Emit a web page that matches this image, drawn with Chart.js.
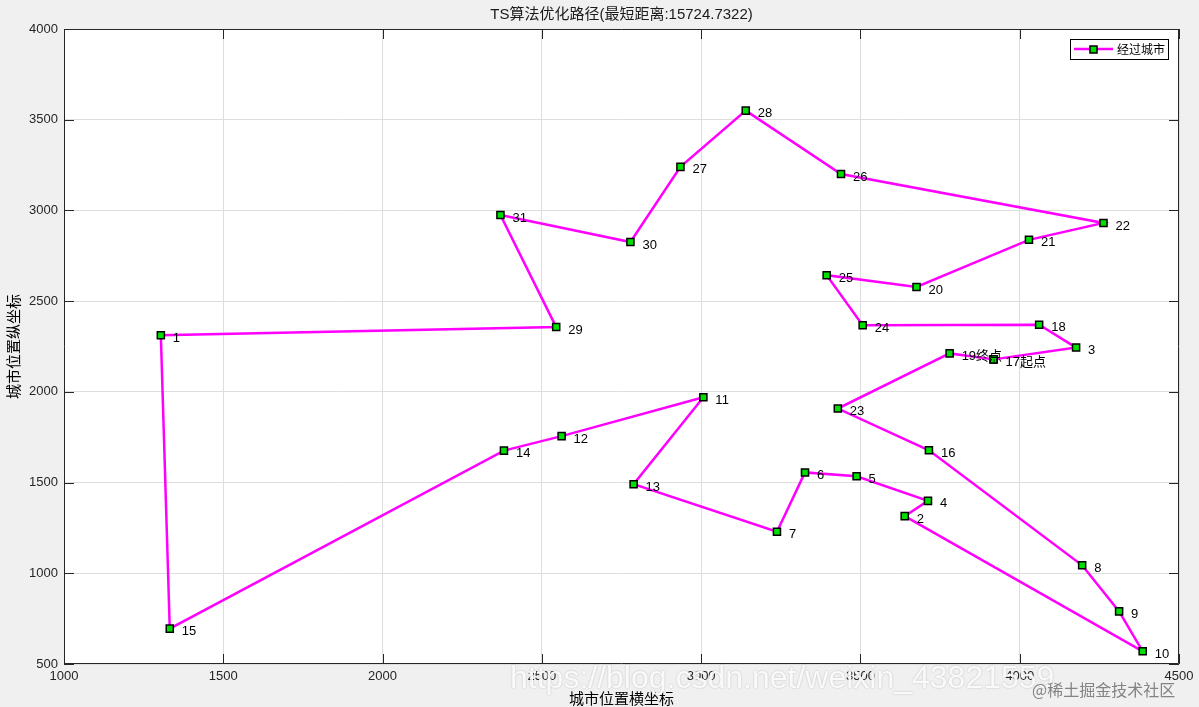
<!DOCTYPE html>
<html>
<head>
<meta charset="utf-8">
<script src="https://cdn.jsdelivr.net/npm/chart.js@4.4.0/dist/chart.umd.min.js"></script>
<style>
  html, body { margin: 0; padding: 0; background: #f0f0f0; }
  #wrap { width: 1199px; height: 707px; }
</style>
</head>
<body>
<div id="wrap"><canvas id="c" width="1199" height="707"></canvas></div>
<script>
// city coordinates (city n is at index n-1)
var cityX = [1304, 3639, 4177, 3712, 3488, 3326, 3238, 4196, 4312, 4386, 3007, 2562, 2788, 2381, 1332, 3715, 3918, 4061, 3780, 3676, 4029, 4263, 3429, 3507, 3394, 3439, 2935, 3140, 2545, 2778, 2370];
var cityY = [2312, 1315, 2244, 1399, 1535, 1556, 1229, 1044, 790, 570, 1970, 1756, 1491, 1676, 695, 1678, 2179, 2370, 2212, 2578, 2838, 2931, 1908, 2367, 2643, 3201, 3240, 3550, 2357, 2826, 2975];
// visiting order, closed back to the start city
var route = [17, 3, 18, 24, 25, 20, 21, 22, 26, 28, 27, 30, 31, 29, 1, 15, 14, 12, 11, 13, 7, 6, 5, 4, 2, 10, 9, 8, 16, 23, 19, 17];
var startCity = 17;
var endCity = 19;
var xTicks = [1000, 1500, 2000, 2500, 3000, 3500, 4000, 4500];
var yTicks = [500, 1000, 1500, 2000, 2500, 3000, 3500, 4000];

var pathData = route.map(function (n) { return { x: cityX[n - 1], y: cityY[n - 1] }; });

function cityLabel(n) {
    if (n == startCity) return n + '起点';
    if (n == endCity) return n + '终点';
    return '' + n;
}

var tickFont = { family: 'Liberation Sans, Arial, sans-serif', size: 13 };

var framePlugin = {
    id: 'frame',
    beforeDraw: function (chart) {
        var a = chart.chartArea, ctx = chart.ctx;
        ctx.save();
        ctx.fillStyle = '#f0f0f0';
        ctx.fillRect(0, 0, chart.width, chart.height);
        ctx.fillStyle = '#ffffff';
        ctx.fillRect(a.left, a.top, a.right - a.left, a.bottom - a.top);
        ctx.restore();
    },
    afterDatasetsDraw: function (chart) {
        var ctx = chart.ctx;
        var meta = chart.getDatasetMeta(0);
        ctx.save();
        ctx.font = '13px "Liberation Sans", Arial, "Noto Sans CJK SC", sans-serif';
        ctx.fillStyle = '#000000';
        ctx.textBaseline = 'middle';
        ctx.textAlign = 'left';
        for (var i = 0; i < route.length - 1; i++) {
            var p = meta.data[i];
            ctx.fillText(cityLabel(route[i]), p.x + 12, p.y + 3);
        }
        ctx.restore();
    },
    afterDraw: function (chart) {
        var a = chart.chartArea, ctx = chart.ctx;
        var xs = chart.scales.x, ys = chart.scales.y;
        ctx.save();
        // axes box and inward ticks
        ctx.strokeStyle = '#262626';
        ctx.lineWidth = 1;
        ctx.beginPath();
        ctx.rect(a.left + 0.5, a.top + 0.5, a.right - a.left - 1, a.bottom - a.top - 1);
        xTicks.forEach(function (v) {
            var px = Math.round(xs.getPixelForValue(v)) + 0.5;
            ctx.moveTo(px, a.bottom); ctx.lineTo(px, a.bottom - 10);
            ctx.moveTo(px, a.top); ctx.lineTo(px, a.top + 10);
        });
        yTicks.forEach(function (v) {
            var py = Math.round(ys.getPixelForValue(v)) + 0.5;
            ctx.moveTo(a.left, py); ctx.lineTo(a.left + 10, py);
            ctx.moveTo(a.right, py); ctx.lineTo(a.right - 10, py);
        });
        ctx.stroke();

        // legend
        var lx = 1070, ly = 39, lw = 98, lh = 20;
        ctx.fillStyle = '#ffffff';
        ctx.fillRect(lx, ly, lw, lh);
        ctx.strokeStyle = '#000000';
        ctx.strokeRect(lx + 0.5, ly + 0.5, lw, lh);
        ctx.strokeStyle = '#ff00ff';
        ctx.lineWidth = 2.5;
        ctx.beginPath();
        ctx.moveTo(lx + 4, ly + 10); ctx.lineTo(lx + 43, ly + 10);
        ctx.stroke();
        ctx.fillStyle = '#00e000';
        ctx.fillRect(lx + 20, ly + 7, 7, 7);
        ctx.strokeStyle = '#000000';
        ctx.lineWidth = 1.5;
        ctx.strokeRect(lx + 20, ly + 7, 7, 7);
        ctx.fillStyle = '#000000';
        ctx.font = '12px "Noto Sans CJK SC", sans-serif';
        ctx.textBaseline = 'middle';
        ctx.fillText('经过城市', lx + 47, ly + 10.5);

        // watermarks
        ctx.font = '32px "Liberation Sans", Arial, sans-serif';
        ctx.textBaseline = 'middle';
        ctx.shadowColor = 'rgba(0,0,0,0.25)';
        ctx.shadowBlur = 2;
        ctx.fillStyle = 'rgba(255,255,255,0.9)';
        ctx.fillText('https://blog.csdn.net/weixin_43821559', 510, 679);
        ctx.shadowBlur = 0;
        ctx.fillStyle = 'rgba(120,120,120,0.9)';
        ctx.font = '16px "Noto Sans CJK SC", sans-serif';
        ctx.fillText('@稀土掘金技术社区', 1032, 690);
        ctx.restore();
    }
};

function plainTick(v) { return '' + v; }

new Chart(document.getElementById('c'), {
    type: 'scatter',
    data: {
        datasets: [{
            label: '经过城市',
            data: pathData,
            showLine: true,
            borderColor: '#ff00ff',
            borderWidth: 2.5,
            pointStyle: 'rect',
            pointRadius: 5,
            pointBackgroundColor: '#00e000',
            pointBorderColor: '#000000',
            pointBorderWidth: 1.5,
            pointHoverRadius: 5
        }]
    },
    plugins: [framePlugin],
    options: {
        responsive: false,
        animation: false,
        events: [],
        layout: { padding: { left: 0, right: 20, top: 0, bottom: 0 } },
        plugins: {
            legend: { display: false },
            tooltip: { enabled: false },
            title: {
                display: true,
                fullSize: false,
                text: 'TS算法优化路径(最短距离:15724.7322)',
                color: '#1a1a1a',
                font: { family: 'Liberation Sans, Arial, "Noto Sans CJK SC", sans-serif', size: 15, weight: 'normal' },
                padding: { top: 6, bottom: 5 }
            }
        },
        scales: {
            x: {
                type: 'linear',
                min: 1000,
                max: 4500,
                afterBuildTicks: function (s) { s.ticks = xTicks.map(function (v) { return { value: v }; }); },
                afterFit: function (s) { s.height = 43; },
                ticks: { color: '#262626', font: tickFont, padding: 5, maxRotation: 0, callback: plainTick },
                grid: { color: '#dedede', lineWidth: 1, tickLength: 0, drawTicks: false },
                border: { display: false },
                title: {
                    display: true,
                    text: '城市位置横坐标',
                    color: '#000000',
                    font: { family: '"Noto Sans CJK SC", sans-serif', size: 15 },
                    padding: { top: 0, bottom: 0 }
                }
            },
            y: {
                type: 'linear',
                min: 500,
                max: 4000,
                afterBuildTicks: function (s) { s.ticks = yTicks.map(function (v) { return { value: v }; }); },
                afterFit: function (s) { s.width = 64; },
                ticks: { color: '#262626', font: tickFont, padding: 6, callback: plainTick },
                grid: { color: '#dedede', lineWidth: 1, tickLength: 0, drawTicks: false },
                border: { display: false },
                title: {
                    display: true,
                    text: '城市位置纵坐标',
                    color: '#000000',
                    font: { family: '"Noto Sans CJK SC", sans-serif', size: 15 },
                    padding: { top: 4, bottom: 0 }
                }
            }
        }
    }
});
</script>
</body>
</html>
